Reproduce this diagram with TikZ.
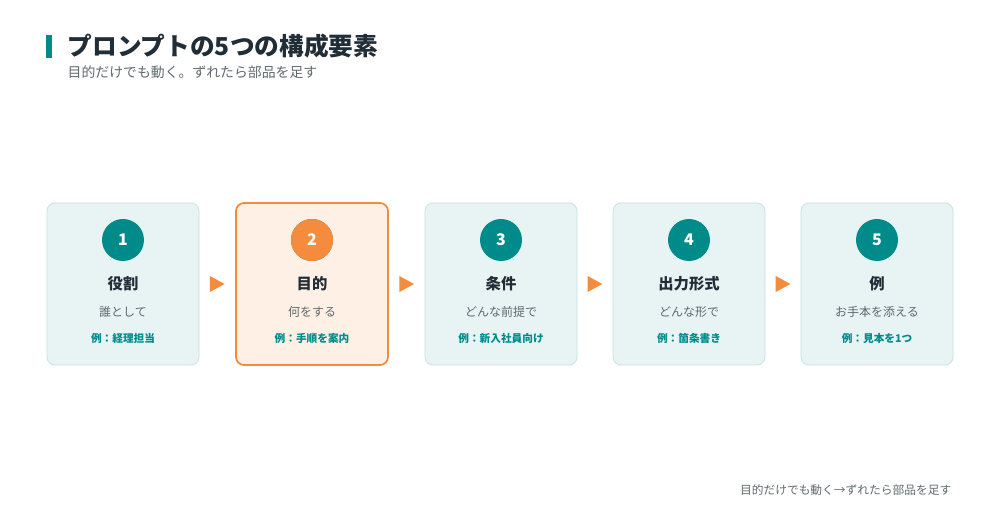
\documentclass[tikz,border=0pt]{standalone}
\usepackage{fontspec}
\setmainfont{Noto Sans CJK JP}
\usetikzlibrary{positioning,calc}
\definecolor{teal}{RGB}{0,139,139}
\definecolor{tealbg}{RGB}{232,244,244}
\definecolor{tealline}{RGB}{200,224,224}
\definecolor{orange}{RGB}{245,139,60}
\definecolor{orangebg}{RGB}{254,240,228}
\definecolor{dark}{RGB}{33,45,55}
\definecolor{grey}{RGB}{95,105,110}
\tikzset{
  card/.style={draw=tealline,fill=tealbg,rounded corners=6pt,line width=0.6pt,minimum width=114pt,minimum height=121.5pt},
  cardon/.style={card,draw=orange,fill=orangebg,line width=1.3pt},
  num/.style={circle,fill=teal,minimum size=31.5pt,inner sep=0pt,text=white,font=\fontsize{12}{14}\selectfont\bfseries},
  head/.style={text=dark,font=\fontsize{11.5}{13}\selectfont\bfseries},
  sub/.style={text=grey,font=\fontsize{9}{11}\selectfont},
  ex/.style={text=teal,font=\fontsize{8}{10}\selectfont\bfseries}
}
\begin{document}
\begin{tikzpicture}[x=0.75pt,y=0.75pt,yscale=-1,xscale=1]
\useasboundingbox (0,0) rectangle (1000,523);
%title
\fill [teal] (46,35) rectangle (52,58);
\node [anchor=west,text=dark,font=\fontsize{18.5}{21}\selectfont\bfseries] (title) at (63,46) {プロンプトの5つの構成要素};
\node [anchor=west,text=grey,font=\fontsize{10.4}{12}\selectfont] (subtitle) at (63,72) {目的だけでも動く。ずれたら部品を足す};
%cards
\node [card] (s1) at (123,284) {};
\node [cardon] (s2) at (312,284) {};
\node [card] (s3) at (501,284) {};
\node [card] (s4) at (689,284) {};
\node [card] (s5) at (877,284) {};
\foreach \i/\h/\s/\e in {1/役割/誰として/例：経理担当,2/目的/何をする/例：手順を案内,3/条件/どんな前提で/例：新入社員向け,4/出力形式/どんな形で/例：箇条書き,5/例/お手本を添える/例：見本を1つ}{
  \node [num] (n\i) at ([yshift=-33pt]s\i.center) {\i};
  \node [head] (h\i) at (s\i.center) {\h};
  \node [sub] (t\i) at ([yshift=21pt]s\i.center) {\s};
  \node [ex] (e\i) at ([yshift=40.5pt]s\i.center) {\e};
}
\node [num,fill=orange] at (n2) {2};
%arrows
\foreach \a/\b in {s1/s2,s2/s3,s3/s4,s4/s5}{
  \coordinate (m) at ($(\a.east)!0.5!(\b.west)$);
  \fill [orange] ([xshift=-5.5pt,yshift=-6pt]m) -- ([xshift=5.5pt]m) -- ([xshift=-5.5pt,yshift=6pt]m) -- cycle;
}
%footer
\node [anchor=east,text=grey,font=\fontsize{8.8}{11}\selectfont] (foot) at (956,490) {目的だけでも動く→ずれたら部品を足す};
\end{tikzpicture}
\end{document}
